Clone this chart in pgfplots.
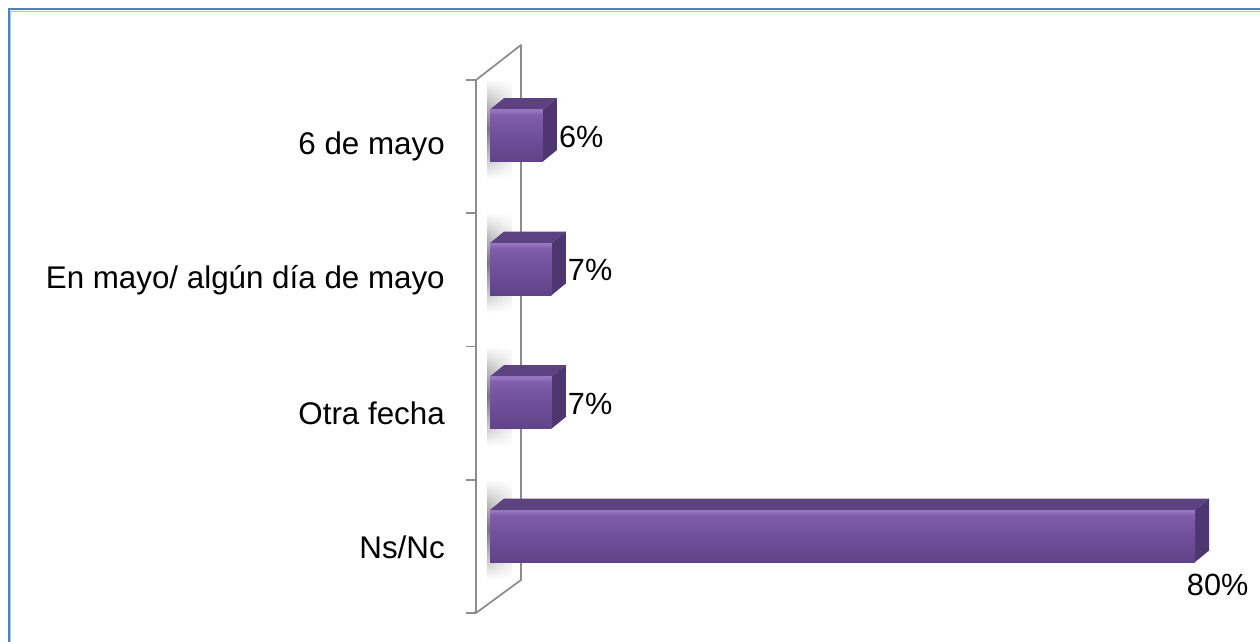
\documentclass[border=0pt]{standalone}
\usepackage{pgfplots}
\pgfplotsset{compat=1.18}
\usepackage{pgfplotstable}
\usetikzlibrary{fadings}
\usepackage{fontspec}
\setmainfont{Liberation Sans}
\definecolor{frameblue}{RGB}{79,129,189}
\definecolor{framelight}{RGB}{172,198,232}
\definecolor{wallgray}{RGB}{140,140,140}
\definecolor{frontlight}{RGB}{130,93,172}
\definecolor{frontedge}{RGB}{150,118,190}
\definecolor{frontmid}{RGB}{115,82,158}
\definecolor{frontdark}{RGB}{96,67,136}
\definecolor{topface}{RGB}{92,66,128}
\definecolor{sideface}{RGB}{78,55,112}

% front face: light band near the top, darker towards the bottom
\pgfdeclareverticalshading{barfront}{100bp}{%
  color(0bp)=(frontdark); color(25bp)=(frontdark); color(55bp)=(frontmid);
  color(70bp)=(frontlight); color(74bp)=(frontedge); color(100bp)=(frontedge)}
\tikzfading[name=vfade, top color=transparent!100, bottom color=transparent!100,
            middle color=transparent!0]

% y = row (Ns/Nc at 0), v = percent
\pgfplotstableread{
y v
3 6
2 7
1 7
0 80
}\datatable

% depth of the 3D boxes, in data units
\def\dx{1.6}
\def\dy{0.086}
\def\hh{0.1948}

\pgfplotsset{
  frontbar/.style={xbar, bar width=39pt, bar shift=0pt, draw=none,
    shading=barfront,
    point meta=x,
    /pgf/number format/assume math mode=true,
    nodes near coords={\pgfmathprintnumber{\pgfplotspointmeta}\%},
    every node near coord/.append style={inner sep=0pt, text=black,
      font=\fontsize{23}{27}\selectfont}},
  lblright/.style={every node near coord/.append style={anchor=west, xshift=12pt, yshift=-1pt}},
  lblbelow/.style={every node near coord/.append style={anchor=center, xshift=17pt, yshift=-37pt}},
}

\begin{document}
\begin{tikzpicture}
\begin{scope}[x=0.75pt, y=-0.75pt]
  \useasboundingbox (0,0) rectangle (1260,642);
  % outer frame (only top and left edges are visible)
  \draw[frameblue, line width=1.5pt] (8.5,642) -- (8.5,9.5) -- (1260,9.5);
  \draw[framelight, line width=0.75pt] (10.5,642) -- (10.5,11.5) -- (1260,11.5);
  % soft shadows on the wall
  \foreach \t in {109,242.5,376,509.5}
    \shade[left color=black!55, right color=black!15, path fading=vfade]
      (487,\t-30) rectangle (512,\t+70);
  % wall
  \draw[wallgray, line width=1.3pt, line join=round]
    (476,80) -- (521,45) -- (521,580) -- (476,613) -- cycle;
  \foreach \t in {80,213.25,346.5,479.75,613}
    \draw[wallgray, line width=1.3pt] (466,\t) -- (476,\t);
\end{scope}

\begin{axis}[
    at={(0,0)}, anchor=north west,
    scale only axis, width=945pt, height=481.5pt,
    xmin=-55.603, xmax=87.376, ymin=-0.794, ymax=4.015,
    axis line style={draw=none}, tick style={draw=none},
    xtick=\empty,
    ytick={0,1,2,3},
    yticklabels={Ns/Nc, Otra fecha, En mayo/ algún día de mayo, 6 de mayo},
    yticklabel style={anchor=east, inner sep=0pt, xshift=333.75pt, yshift=-8.25pt,
                      font=\fontsize{23.5}{28}\selectfont},
    clip=false,
]
  % one 3D box per row: top face, side face, then the shaded front face
  \pgfplotstablegetrowsof{\datatable}
  \pgfmathtruncatemacro\lastrow{\pgfplotsretval-1}
  \pgfplotsforeachungrouped \i in {0,...,\lastrow}{%
    \pgfplotstablegetelem{\i}{y}\of\datatable \let\yy\pgfplotsretval
    \pgfplotstablegetelem{\i}{v}\of\datatable \let\vv\pgfplotsretval
    \pgfmathsetmacro\yt{\yy+\hh}
    \pgfmathsetmacro\yb{\yy-\hh}
    \pgfmathsetmacro\ytt{\yt+\dy}
    \pgfmathsetmacro\ybb{\yb+\dy}
    \pgfmathsetmacro\vx{\vv+\dx}
    \pgfmathsetmacro\ylo{\yy-0.4}
    \pgfmathsetmacro\yhi{\yy+0.4}
    \ifdim\vv pt>50pt \def\lbl{lblbelow}\else\def\lbl{lblright}\fi
    \edef\temp{\noexpand\addplot[fill=topface, draw=none]
      coordinates {(0,\yt) (\dx,\ytt) (\vx,\ytt) (\vv,\yt)};
      \noexpand\addplot[fill=sideface, draw=none]
      coordinates {(\vv,\yt) (\vx,\ytt) (\vx,\ybb) (\vv,\yb)};
      \noexpand\addplot[frontbar, \lbl, restrict y to domain=\ylo:\yhi]
      table[x=v, y=y] {\noexpand\datatable};}
    \temp
  }
\end{axis}
\end{tikzpicture}
\end{document}
